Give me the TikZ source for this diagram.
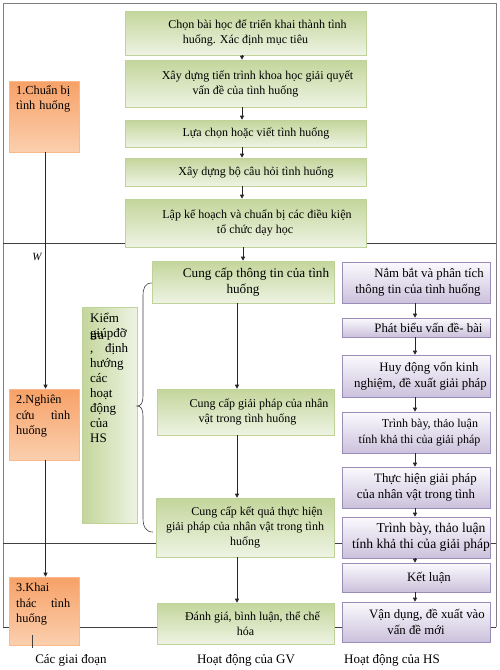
\documentclass[tikz,border=0pt]{standalone}
\usepackage{fontspec}
\setmainfont{Liberation Serif}
\usetikzlibrary{shadows,arrows.meta,calc}
\definecolor{gtop}{HTML}{C3D69B}
\definecolor{gbot}{HTML}{EEF3E3}
\definecolor{gborder}{HTML}{BFD29A}
\definecolor{otop}{HTML}{F7A167}
\definecolor{omid}{HTML}{F68B3F}
\definecolor{obot}{HTML}{FBCFAE}
\definecolor{oborder}{HTML}{F9B98A}
\definecolor{ptop}{HTML}{FBFAFD}
\definecolor{pbot}{HTML}{CBC1DC}
\definecolor{pborder}{HTML}{9C8CBA}
\definecolor{framec}{HTML}{808080}
\definecolor{linec}{HTML}{404040}
\begin{document}
\begin{tikzpicture}[x=1pt,y=-1pt,
  arr/.style={-{Triangle[length=4pt,width=4pt]}, draw=black!85, line width=0.6pt},
  shad/.style={drop shadow={shadow xshift=1.3pt, shadow yshift=-1.3pt, fill=black, opacity=0.3}},
  gbox/.style={shad, draw=gborder, line width=0.6pt, top color=gtop, bottom color=gbot,
    inner sep=0pt, align=center, font=\fontsize{12}{15}\selectfont},
  kbox/.style={shad, draw=gborder, line width=0.6pt, left color=gtop, right color=gbot,
    inner sep=0pt},
  obox/.style={draw=oborder, line width=0.6pt, top color=otop, middle color=omid, bottom color=obot,
    inner sep=0pt, minimum width=70pt},
  otext/.style={anchor=north west, inner sep=0pt, text width=54pt, align=left,
    font=\fontsize{12.3}{15.5}\selectfont},
  pbox/.style={shad, draw=pborder, line width=0.6pt, top color=ptop, bottom color=pbot,
    inner sep=0pt, align=center, minimum width=148pt, font=\fontsize{12.8}{16}\selectfont},
  lbl/.style={inner sep=0pt, font=\fontsize{13}{15}\selectfont}
]
\useasboundingbox (0,0) rectangle (500,670);
\fill[white] (0,0) rectangle (500,670);

% frame and separators
\draw[framec, line width=1pt] (3,627) -- (3,3) -- (496,3) -- (496,627);
\draw[linec, line width=0.7pt] (3,243) -- (496,243);
\draw[linec, line width=0.7pt] (3,543) -- (496,543);
\draw[linec, line width=0.7pt] (3,627) -- (496,627);

% coordinates for arrow columns
\coordinate (tx) at (242,0);
\coordinate (gx) at (237,0);
\coordinate (hx) at (415,0);
\coordinate (px) at (45.5,0);

% top column
\node[gbox, minimum width=241pt, minimum height=44pt] (A) at (245.5,33)
  {\hspace*{24pt}Chọn bài học để triển khai thành tình\\huống. Xác định mục tiêu};
\node[gbox, minimum width=241pt, minimum height=47pt] (B) at (245.5,83.5)
  {\hspace*{24pt}Xây dựng tiến trình khoa học giải quyết\\vấn đề của tình huống};
\node[gbox, minimum width=241pt, minimum height=27pt] (C) at (245.5,133.5)
  {\hspace*{21pt}Lựa chọn hoặc viết tình huống};
\node[gbox, minimum width=241pt, minimum height=28pt] (D) at (245.5,172)
  {\hspace*{21pt}Xây dựng bộ câu hỏi tình huống};
\node[gbox, minimum width=241pt, minimum height=48pt] (E) at (245.5,223)
  {\hspace*{23pt}Lập kế hoạch và chuẩn bị các điều kiện\\\hspace*{19pt}tổ chức dạy học};

% GV column
\node[gbox, minimum width=182pt, minimum height=42pt, font=\fontsize{13.2}{16}\selectfont] (G1) at (243,282)
  {\hspace*{26pt}Cung cấp thông tin của tình\\huống};
\node[gbox, minimum width=177pt, minimum height=46pt] (G2) at (245.5,412)
  {\hspace*{27pt}Cung cấp giải pháp của nhân\\\hspace*{4pt}vật trong tình huống};
\node[gbox, minimum width=178pt, minimum height=59pt] (G3) at (245,527.5)
  {\hspace*{24pt}Cung cấp kết quả thực hiện\\giải pháp của nhân vật trong tình\\huống};
\node[gbox, minimum width=177pt, minimum height=41pt] (G4) at (245.5,623.5)
  {\hspace*{14pt}Đánh giá, bình luận, thể chế\\hóa};

% Kiem tra box
\node[kbox, minimum width=55pt, minimum height=216pt] (K) at (109.5,415) {};
\node[anchor=north west, inner sep=0pt, text width=44pt, align=left,
  font=\fontsize{13}{15}\selectfont] (Kt) at (90,313)
  {Kiểm\\\makebox[0pt][l]{\raisebox{-2pt}{tra}}giúpđỡ\\\makebox[38pt][l]{,\hfill định}\\hướng\\các\\hoạt\\động\\của\\HS};

% brace
\draw[linec, line width=0.6pt] (152,283) .. controls (145,283) and (143,288) .. (143,296)
  -- (143,396) .. controls (143,403) and (141,406) .. (137,406)
  .. controls (141,406) and (143,409) .. (143,416)
  -- (143,518) .. controls (143,527) and (146,532) .. (153,532);

% HS column
\node[pbox, minimum height=41pt] (H1) at (416,282.5)
  {\hspace*{26pt}Nắm bắt và phân tích\\\hspace*{4pt}thông tin của tình huống};
\node[pbox, minimum height=19pt] (H2) at (416,327.5)
  {\hspace*{25pt}Phát biểu vấn đề- bài};
\node[pbox, minimum height=42pt] (H3) at (416,376)
  {\hspace*{26pt}Huy động vốn kinh\\\hspace*{9pt}nghiệm, đề xuất giải pháp};
\node[pbox, minimum height=41pt, font=\fontsize{12}{16}\selectfont] (H4) at (416,432.5)
  {\hspace*{28pt}Trình bày, thảo luận\\\hspace*{7pt}tính khả thi của giải pháp};
\node[pbox, minimum height=41pt] (H5) at (416,487.5)
  {\hspace*{19pt}Thực hiện giải pháp\\của nhân vật trong tình};
\node[pbox, minimum height=41pt, font=\fontsize{13.6}{16}\selectfont] (H6) at (416,537.5)
  {\hspace*{30pt}Trình bày, thảo luận\\\hspace*{10pt}tính khả thi của giải pháp};
\node[pbox, minimum height=29pt] (H7) at (416,577.5)
  {\hspace*{26pt}Kết luận};
\node[pbox, minimum height=40pt] (H8) at (416,622)
  {\hspace*{22pt}Vận dụng, đề xuất vào\\vấn đề mới};

% phases
\node[obox, minimum height=71pt] (P1) at (44,116.5) {};
\node[otext] (P1t) at (16,85) {1.Chuẩn\hfill bị\\tình huống};
\node[obox, minimum height=71pt] (P2) at (44,424.5) {};
\node[otext] (P2t) at (16,395) {2.Nghiên\\cứu\hfill tình\\huống};
\node[obox, minimum height=68pt] (P3) at (44,611) {};
\node[otext] (P3t) at (16,583) {3.Khai\\thác\hfill tình\\huống};
\coordinate (tk) at (32,648);
\draw[linec, line width=0.6pt] (tk) -- ++(0,-13);

\node[inner sep=0pt, font=\fontsize{11}{13}\itshape] (W) at (37,257) {W};

% arrows
\draw[arr] (P1.south -| px) -- (P2.north -| px);
\draw[arr] (P2.south -| px) -- (P3.north -| px);
\draw[arr] (A.south -| tx) -- (B.north -| tx);
\draw[arr] (B.south -| tx) -- (C.north -| tx);
\draw[arr] (C.south -| tx) -- (D.north -| tx);
\draw[arr] (D.south -| tx) -- (E.north -| tx);
\draw[arr] (E.south -| G1.north) -- (G1.north);
\draw[arr] (G1.south -| gx) -- (G2.north -| gx);
\draw[arr] (G2.south -| gx) -- (G3.north -| gx);
\draw[arr] (G3.south -| gx) -- (G4.north -| gx);
\draw[arr] (H1.south -| hx) -- (H2.north -| hx);
\draw[arr] (H2.south -| hx) -- (H3.north -| hx);
\draw[arr] (H3.south -| hx) -- (H4.north -| hx);
\draw[arr] (H4.south -| hx) -- (H5.north -| hx);
\draw[arr] (H5.south -| hx) -- (H6.north -| hx);
\draw[arr] (H6.south -| hx) -- (H7.north -| hx);
\draw[arr] (H7.south -| hx) -- (H8.north -| hx);

% bottom labels
\node[lbl] (L1) at (71,660) {Các giai đoạn};
\node[lbl] (L2) at (246,660) {Hoạt động của GV};
\node[lbl] (L3) at (392,660) {Hoạt động của HS};
\end{tikzpicture}
\end{document}
